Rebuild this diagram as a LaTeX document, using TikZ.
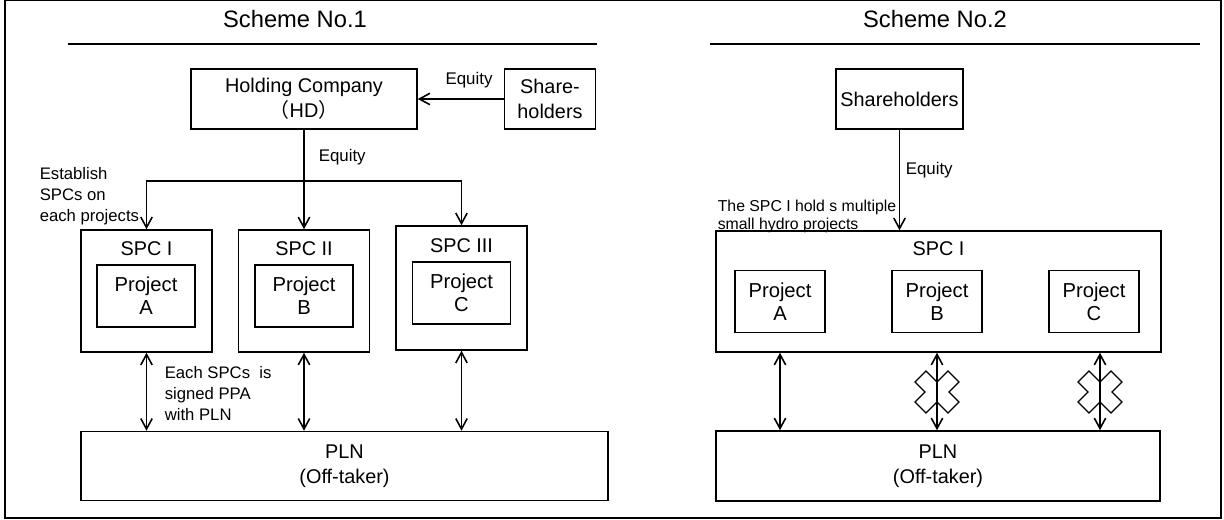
\documentclass[tikz,border=0pt]{standalone}
\usepackage{fontspec}
\setmainfont{Liberation Sans}
\newfontfamily\cjk{Noto Sans CJK SC}
\usetikzlibrary{arrows.meta,positioning}

\tikzset{cut/.pic={
  \draw[line width=0.7pt] (0,-10) -- (-11,-21) -- (-22,-10) -- (-12,0) -- (-22,10) -- (-11,21) -- (0,10);
  \draw[line width=0.7pt] (0,-10) -- (11,-21) -- (22,-10) -- (12,0) -- (22,10) -- (11,21) -- (0,10);
}}

\begin{document}
\begin{tikzpicture}[x=0.02cm,y=-0.02cm,>={Straight Barb[length=6pt,width=6.5pt]},line width=0.9pt,font=\fontsize{11.3}{14.5}\selectfont]
  \tikzstyle{box}=[draw,inner sep=0pt,align=center]
  \tikzstyle{proj}=[box,minimum height=1.24cm,font=\fontsize{11.5}{13}\selectfont]
  \tikzstyle{title}=[font=\fontsize{13.5}{16}\selectfont]
  \tikzstyle{note}=[inner sep=0pt,align=left,font=\fontsize{9.5}{11.8}\selectfont]
  \tikzstyle{equity}=[inner sep=0pt,font=\fontsize{9.6}{11}\selectfont]

  \useasboundingbox (0,0) rectangle (1224,520);
  \draw (5,0.5) rectangle (1221,518);

  % Scheme No.1
  \node[title] (t1) at (295,19) {Scheme No.1};
  \draw (68,44) -- (597,44);

  \node[box,minimum width=4.52cm,minimum height=1.2cm] (hd) at (304,99) {Holding Company\\{\cjk （}HD{\cjk ）}};
  \node[box,minimum width=1.82cm,minimum height=1.2cm] (sh1) at (550,99) {Share-\\holders};
  \node[equity,anchor=base] (eq1) at (469,85) {Equity};

  \node[box,minimum width=2.62cm,minimum height=2.44cm] (spc1) at (146.5,291) {};
  \node[box,minimum width=2.62cm,minimum height=2.44cm] (spc2) at (304,291) {};
  \node[box,minimum width=2.62cm,minimum height=2.48cm] (spc3) at (461.5,288) {};
  \node (spc1l) at (146.5,249) {SPC I};
  \node (spc2l) at (304,249) {SPC II};
  \node (spc3l) at (461.5,246) {SPC III};
  \node[proj,minimum width=1.96cm] (p1a) at (146,296) {Project\\A};
  \node[proj,minimum width=1.96cm] (p1b) at (304,296) {Project\\B};
  \node[proj,minimum width=1.96cm] (p1c) at (461.5,293) {Project\\C};

  \node[box,minimum width=10.54cm,minimum height=1.38cm] (pln1) at (344.5,466) {PLN\\(Off-taker)};

  \node[equity,anchor=base west] (eq2) at (318,162) {Equity};
  \node[note,anchor=north west] (est) at (39,167) {Establish\\SPCs on\\each projects};
  \node[note,anchor=north west] (ppa) at (164,366) {Each SPCs~ is\\signed PPA\\with PLN};

  \draw[->] (sh1) -- (hd);
  \draw[->] (hd.south) -- (spc2.north);
  \coordinate (split) at (hd.south |- 0,181);
  \draw[->] (split) -| (spc1.north);
  \draw[->] (split) -| (spc3.north);
  \draw[<->] (spc1.south) -- (spc1.south |- pln1.north);
  \draw[<->] (spc2.south) -- (spc2.south |- pln1.north);
  \draw[<->] (spc3.south) -- (spc3.south |- pln1.north);

  % Scheme No.2
  \node[title] (t2) at (935,19) {Scheme No.2};
  \draw (710,44) -- (1200,44);

  \node[box,minimum width=2.54cm,minimum height=1.2cm] (sh2) at (899.5,99) {Shareholders};
  \node[box,minimum width=8.9cm,minimum height=2.42cm] (spc) at (938.5,291.5) {};
  \node (spcl) at (938.5,249) {SPC I};
  \node[proj,minimum width=1.8cm] (pa) at (780,301.5) {Project\\A};
  \node[proj,minimum width=1.8cm] (pb) at (937,301.5) {Project\\B};
  \node[proj,minimum width=1.8cm] (pc) at (1094,301.5) {Project\\C};
  \node[box,minimum width=8.88cm,minimum height=1.4cm] (pln2) at (938,466) {PLN\\(Off-taker)};

  \node[equity,anchor=base west] (eq3) at (905,175) {Equity};
  \node[note,anchor=north west,font=\fontsize{9}{10.6}\selectfont] (hold) at (717,199) {The SPC I hold s multiple\\small hydro projects};

  \draw[->] (sh2.south) -- (sh2.south |- spc.north);
  \coordinate (cx) at ([xshift=0.12cm]pc.south);
  \draw[<->] (pa |- spc.south) -- (pa |- pln2.north);
  \draw[<->] (pb |- spc.south) -- (pb |- pln2.north);
  \draw[<->] (cx |- spc.south) -- (cx |- pln2.north);
  \pic at (937,392) {cut};
  \pic at (1100,392) {cut};
\end{tikzpicture}
\end{document}
